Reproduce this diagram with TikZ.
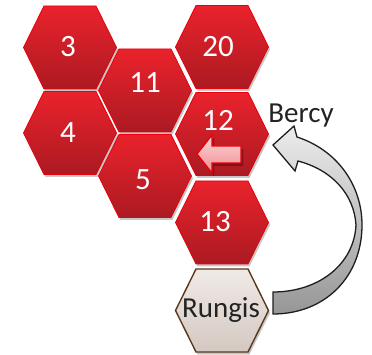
\documentclass[tikz,border=0pt]{standalone}
\usepackage{fontspec}
\setmainfont{Carlito}
\definecolor{hexTop}{RGB}{234,34,44}
\definecolor{hexBot}{RGB}{172,26,34}
\definecolor{hexEdge}{RGB}{232,0,12}
\definecolor{rgTop}{RGB}{240,234,231}
\definecolor{rgBot}{RGB}{212,200,193}
\definecolor{rgEdge}{RGB}{90,56,28}
\definecolor{saTop}{RGB}{252,214,214}
\definecolor{saBot}{RGB}{240,140,144}
\definecolor{baTop}{RGB}{236,236,236}
\definecolor{baBot}{RGB}{150,150,150}
\newcommand\hexpath{(-46.5,0) -- (-26,-41.5) -- (26,-41.5) -- (46.5,0) -- (26,41.5) -- (-26,41.5) -- cycle}
\tikzset{
  redhex/.style={top color=hexTop, bottom color=hexBot, draw=hexEdge, line width=0.8pt},
  rungishex/.style={top color=rgTop, bottom color=rgBot, draw=rgEdge, line width=1.4pt},
  hexshadow/.style={fill=black, opacity=0.22},
  numtxt/.style={text=white, font=\fontsize{31}{31}\selectfont, inner sep=0pt},
  darktxt/.style={text={rgb,255:red,35;green,35;blue,35}, font=\fontsize{29}{29}\selectfont, inner sep=0pt},
  smallarrow/.style={top color=saTop, bottom color=saBot, draw=hexEdge, line width=1.3pt, line join=miter},
  bigarrow/.style={top color=baTop, bottom color=baBot, draw={rgb,255:red,30;green,30;blue,30}, line width=1.3pt, line join=miter}
}
\begin{document}
\begin{tikzpicture}[x=1pt,y=-1pt]
\useasboundingbox[fill=white] (0,0) rectangle (372,355);
% shadows
\foreach \cx/\cy in {70/47.5,70/133,145/90.5,145/176,222/47,222/134,222/222.5,222/310.5}{
  \path[hexshadow, shift={(\cx+1.5,\cy+2.5)}] \hexpath;
}
% hexagons
\foreach \cx/\cy in {70/47.5,70/133,145/90.5,145/176,222/47,222/134,222/222.5}{
  \path[redhex, shift={(\cx,\cy)}] \hexpath;
}
\path[rungishex, shift={(222,310.5)}] \hexpath;
% labels
\node[numtxt] (n3) at (68,47) {3};
\node[numtxt] (n4) at (68,133) {4};
\node[numtxt] (n11) at (145,83) {11};
\node[numtxt] (n5) at (143,180) {5};
\node[numtxt] (n20) at (218,47) {20};
\node[numtxt] (n12) at (218,120) {12};
\node[numtxt] (n13) at (215,222) {13};
\node[darktxt] (rungis) at (221,310) {Rungis};
\node[darktxt, anchor=base] (bercy) at (301,123) {Bercy};
% small arrow in 12
\path[fill=black, opacity=0.3] (199,157) -- (214,138) -- (214,149) -- (243,149) -- (243,166) -- (214,166) -- (214,176) -- cycle;
\path[smallarrow] (197,154) -- (212,135) -- (212,146) -- (241,146) -- (241,163) -- (212,163) -- (212,173) -- cycle;
% big curved arrow from Rungis to 12
\coordinate (tip) at (273,145);
\path[bigarrow] (tip) -- (294,126) -- (297,137)
  .. controls (337,150) and (362,185) .. (362,225)
  .. controls (362,277) and (325,314) .. (273,314)
  -- (273,292)
  .. controls (318,292) and (354,265) .. (356,225)
  .. controls (354,194) and (332,170) .. (298,161)
  -- (295,171) -- cycle;
\end{tikzpicture}
\end{document}
